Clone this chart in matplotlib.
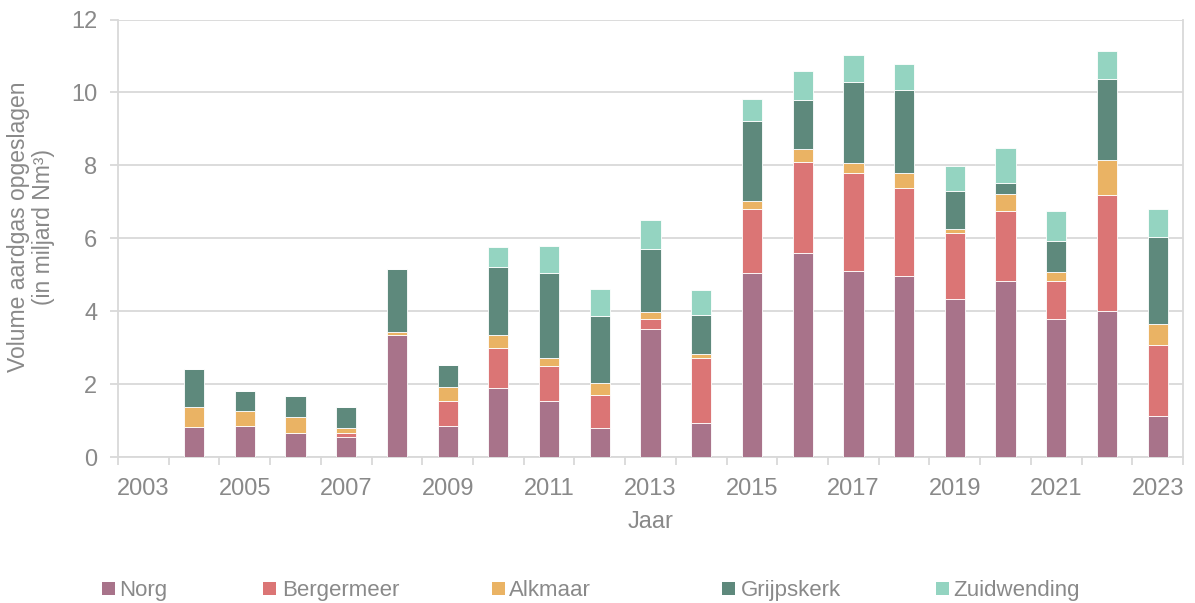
import matplotlib
matplotlib.use("Agg")
import matplotlib.pyplot as plt
from matplotlib.patches import Rectangle
import numpy as np

plt.rcParams['font.family'] = ['Liberation Sans', 'DejaVu Sans']

years = list(range(2003, 2024))
series_names = ["Norg", "Bergermeer", "Alkmaar", "Grijpskerk", "Zuidwending"]
norg        = [0, 0.84, 0.86, 0.66, 0.55, 3.35, 0.87, 1.91, 1.53, 0.81, 3.53, 0.93, 5.04, 5.59, 5.10, 4.97, 4.33, 4.82, 3.80, 4.02, 1.12]
bergermeer  = [0, 0.00, 0.00, 0.00, 0.12, 0.00, 0.68, 1.08, 0.98, 0.91, 0.27, 1.80, 1.77, 2.51, 2.70, 2.42, 1.83, 1.94, 1.02, 3.16, 1.95]
alkmaar     = [0, 0.54, 0.42, 0.45, 0.14, 0.09, 0.37, 0.36, 0.21, 0.33, 0.18, 0.11, 0.22, 0.36, 0.26, 0.39, 0.10, 0.47, 0.26, 0.98, 0.58]
grijpskerk  = [0, 1.04, 0.55, 0.56, 0.56, 1.72, 0.60, 1.86, 2.34, 1.83, 1.74, 1.07, 2.19, 1.33, 2.23, 2.28, 1.04, 0.29, 0.86, 2.21, 2.40]
zuidwending = [0, 0.00, 0.00, 0.00, 0.00, 0.00, 0.00, 0.55, 0.73, 0.72, 0.78, 0.67, 0.61, 0.79, 0.73, 0.73, 0.68, 0.95, 0.82, 0.76, 0.75]
colors = ["#A8738A", "#DB7575", "#EAB364", "#5E897C", "#94D4C1"]
y_ticks = [0, 2, 4, 6, 8, 10, 12]

grey = "#898989"
light = "#D9D9D9"
W, H = 1195, 603

fig = plt.figure(figsize=(11.95, 6.03), dpi=100)
ax = fig.add_axes([118/W, 1-457.3/H, (1183-118)/W, (457.3-19.5)/H])

x = np.arange(len(years))
bottom = np.zeros(len(years))
for name, vals, c in zip(series_names, [norg, bergermeer, alkmaar, grijpskerk, zuidwending], colors):
    v = np.array(vals)
    ax.bar(x, v, width=0.40, bottom=bottom, color=c, edgecolor="white", linewidth=0.6, zorder=3, label=name)
    bottom += v

ax.set_xlim(-0.5, len(years) - 0.5)
ax.set_ylim(0, 12)
ax.set_yticks(y_ticks)
ax.set_yticklabels([str(t) for t in y_ticks])
ax.grid(axis="y", color=light, linewidth=1.3, zorder=0)

ax.set_xticks(x[::2])
ax.set_xticklabels([str(y) for y in years[::2]])
ax.set_xticks(np.arange(-0.5, len(years)), minor=True)
ax.tick_params(axis="x", which="major", length=0, pad=15, labelsize=17, labelcolor=grey)
ax.tick_params(axis="x", which="minor", length=6, width=1.3, color=light)
ax.tick_params(axis="y", length=6, width=1.3, color=light, pad=9, labelsize=17, labelcolor=grey)

for s in ["left", "bottom", "right"]:
    ax.spines[s].set_color(light)
    ax.spines[s].set_linewidth(1.3)
ax.spines["top"].set_visible(False)

ax.set_xlabel("Jaar", fontsize=17, color=grey, labelpad=8)
fig.text(31/W, 1-227/H, "Volume aardgas opgeslagen\n(in miljard Nm³)", rotation=90,
         ha="center", va="center", multialignment="center", fontsize=16.5, color=grey,
         linespacing=1.1)

# legend (manually placed entries, Excel-style spacing)
sq_x = [102, 263, 492, 722, 936]
txt_x = [119, 282, 509, 741, 953]
for name, c, sx, tx in zip(series_names, colors, sq_x, txt_x):
    fig.patches.append(Rectangle((sx/W, 1-595/H), 13/W, 13/H, transform=fig.transFigure,
                                 facecolor=c, edgecolor="none"))
    fig.text(tx/W, 1-596/H, name, ha="left", va="baseline", fontsize=16, color=grey)

fig.savefig("out.png", dpi=100)
